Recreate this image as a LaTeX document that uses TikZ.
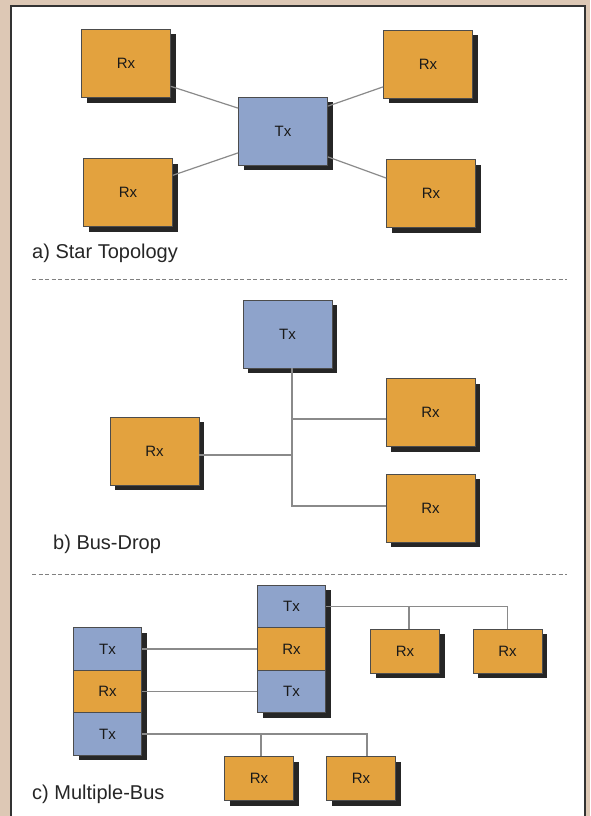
\documentclass[tikz,border=0pt]{standalone}
\usepackage{fontspec}
\setmainfont{Liberation Sans}
\usetikzlibrary{shadows}
\definecolor{rxorange}{HTML}{E3A23E}
\definecolor{txblue}{HTML}{8EA3CB}
\definecolor{tanbg}{HTML}{DDC8B5}
\definecolor{wiregray}{HTML}{8A8A8A}

\begin{document}
\begin{tikzpicture}[x=1pt, y=-1pt,
  unit/.style={draw=black!70, line width=0.6pt, inner sep=0pt, text=black!90,
    font=\fontsize{15}{18}\selectfont,
    drop shadow={shadow xshift=5pt, shadow yshift=-5pt, fill=black!85, opacity=1}},
  rxbox/.style={unit, fill=rxorange, minimum width=89pt, minimum height=68pt},
  txbox/.style={unit, fill=txblue, minimum width=89pt, minimum height=68pt},
  cell/.style={minimum width=68pt, minimum height=42.5pt},
  small/.style={minimum width=69pt, minimum height=44pt},
  wire/.style={draw=wiregray, line width=1.2pt},
  sep/.style={draw=black!50, line width=1pt, dash pattern=on 4pt off 2.5pt},
  caption/.style={anchor=west, inner sep=0pt, text=black!85, font=\fontsize{20}{24}\selectfont}]
  % ---------------------------------------------------------------- frame
  \fill[tanbg] (0,0) rectangle (590,816);
  \useasboundingbox (0,0) rectangle (590,816);
  \fill[white] (11,6) rectangle (585,816);
  \draw[black!80, line width=2pt] (11,816) -- (11,6) -- (585,6) -- (585,816);
  % ---------------------------------------------------------------- (a) star
  \node[rxbox] (rxa) at (126,63.5) {Rx};
  \node[rxbox] (rxb) at (428,64) {Rx};
  \node[txbox] (txa) at (283,131) {Tx};
  \node[rxbox] (rxc) at (128,192.5) {Rx};
  \node[rxbox] (rxd) at (431,193.5) {Rx};
  \draw[wire] (rxa.-27) -- (txa.153);
  \draw[wire] (rxc.21) -- (txa.206);
  \draw[wire] (rxb.207) -- (txa.29);
  \draw[wire] (rxd.161) -- (txa.-30);
  \node[caption] (capa) at (32,253) {a) Star Topology};
  \draw[sep] (32,279) -- (567,279);
  % ---------------------------------------------------------------- (b) bus-drop
  \node[txbox] (txb) at (287.5,334) {Tx};
  \node[rxbox] (rxe) at (430.5,412.5) {Rx};
  \node[rxbox] (rxf) at (154.5,451) {Rx};
  \node[rxbox] (rxg) at (430.5,508) {Rx};
  \coordinate (busb) at (292,506);
  \draw[wire] (txb.south -| busb) -- (busb) -- (busb -| rxg.west);
  \draw[wire] ([yshift=-6.5pt]rxe.west) -- ([yshift=-6.5pt]rxe.west -| busb);
  \draw[wire] ([yshift=-4pt]rxf.east) -- ([yshift=-4pt]rxf.east -| busb);
  \node[caption] (capb) at (53,544) {b) Bus-Drop};
  \draw[sep] (32,574) -- (567,574);
  % ---------------------------------------------------------------- (c) multiple-bus
  \node[txbox, cell] (mtxa) at (291.5,606.5) {Tx};
  \node[rxbox, cell] (mrxa) at (291.5,649) {Rx};
  \node[txbox, cell] (mtxb) at (291.5,691.5) {Tx};
  \node[txbox, cell] (ltxa) at (107.5,649) {Tx};
  \node[rxbox, cell] (lrxa) at (107.5,691.5) {Rx};
  \node[txbox, cell] (ltxb) at (107.5,734) {Tx};
  \node[rxbox, small] (srxa) at (405,651) {Rx};
  \node[rxbox, small] (srxb) at (507.5,651) {Rx};
  \node[rxbox, small] (srxc) at (259,778.5) {Rx};
  \node[rxbox, small] (srxd) at (361,778.5) {Rx};
  \draw[wire] (ltxa.east) -- (mrxa.west);
  \draw[wire] (lrxa.east) -- (mtxb.west);
  % upper bus and its drops
  \draw[wire] (mtxa.east) -- (mtxa.east -| srxb.north) -- (srxb.north);
  \draw[wire] ([xshift=4pt]srxa.north) -- ([xshift=4pt]srxa.north |- mtxa.east);
  % lower bus and its drops
  \draw[wire] (ltxb.east) -- ([xshift=6pt]srxd.north |- ltxb.east) -- ([xshift=6pt]srxd.north);
  \draw[wire] ([xshift=2pt]srxc.north) -- ([xshift=2pt]srxc.north |- ltxb.east);
  \node[caption] (capc) at (32,794) {c) Multiple-Bus};
\end{tikzpicture}
\end{document}
